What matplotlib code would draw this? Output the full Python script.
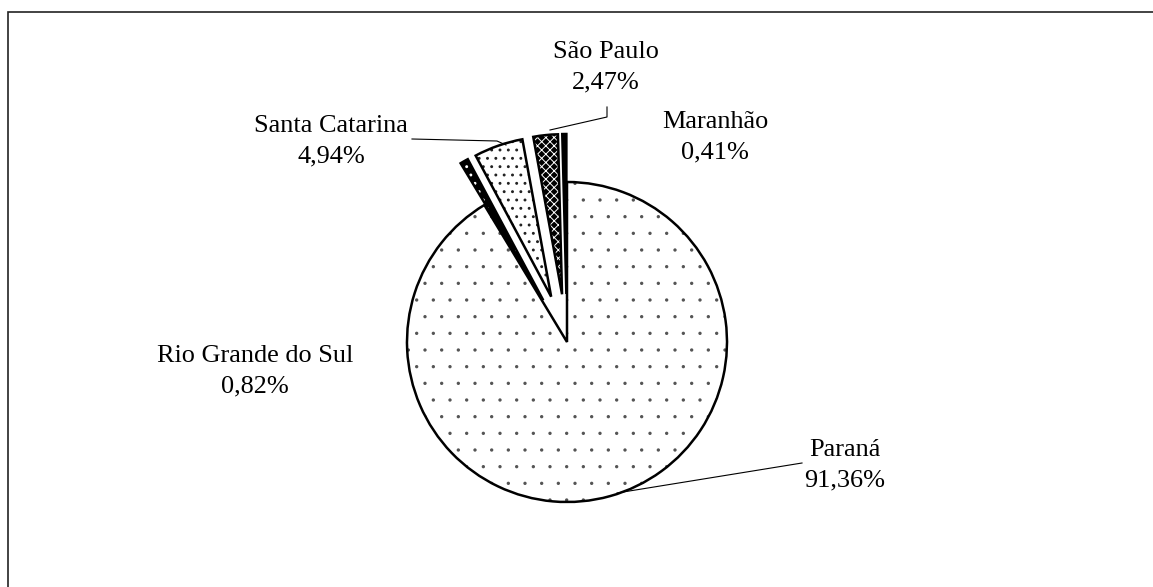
"""Pie chart of share by state (exploded small slices, hatched fills)."""

import matplotlib

matplotlib.use("Agg")
import matplotlib.pyplot as plt
from matplotlib.patches import Rectangle, Wedge

plt.rcParams["font.family"] = ["Liberation Serif", "DejaVu Serif"]

states = ["Paraná", "Rio Grande do Sul", "Santa Catarina", "São Paulo", "Maranhão"]
shares = [91.36, 0.82, 4.94, 2.47, 0.41]
labels = ["91,36%", "0,82%", "4,94%", "2,47%", "0,41%"]

W, H = 1153, 587
CX, CY, R = 567, 342, 160  # pie centre and radius in pixels


def px(x, y):
    """pixel position -> data coords (pie radius = 1)"""
    return (x - CX) / R, (CY - y) / R


fig = plt.figure(figsize=(W / 100, H / 100), dpi=100)
ax = fig.add_axes([0, 0, 1, 1])

explode = [0, 0.3, 0.3, 0.3, 0.3]
wedges, _ = ax.pie(
    shares,
    explode=explode,
    startangle=90,
    counterclock=False,
    radius=1,
    center=(0, 0),
    wedgeprops=dict(edgecolor="black", linewidth=1.8, facecolor="white"),
    frame=True,
)
ax.set_xlim(-CX / R, (W - CX) / R)
ax.set_ylim(-(H - CY) / R, CY / R)
ax.set_axis_off()

# fills: (face, hatch, hatch colour, hatch linewidth)
fills = [
    ("white", ".", "#555555", 0.0),
    ("black", "..", "white", 0.9),
    ("white", "..", "#222222", 0.9),
    ("black", "xxxx", "white", 0.7),
    ("black", None, None, 0.0),
]
for w, (face, hatch, hcol, hlw) in zip(wedges, fills):
    with plt.rc_context({"hatch.linewidth": hlw}):
        under = Wedge(w.center, w.r, w.theta1, w.theta2, facecolor=face,
                      edgecolor=hcol if hcol else face, linewidth=0,
                      hatch=hatch, zorder=w.get_zorder() - 0.1)
    if hasattr(under, "set_hatch_linewidth"):
        under.set_hatch_linewidth(hlw)
    ax.add_patch(under)
    w.set_facecolor("none")

# label positions (pixel centres) and leader lines
label_pos = [(845, 465), (255, 371), (331, 141), (606, 67), (715, 137)]
for name, pct, (x, y) in zip(states, labels, label_pos):
    ax.text(*px(x, y), f"{name}\n{pct}", ha="center", va="center",
            fontsize=18.9, linespacing=1.5)

leaders = [
    [(617, 493), (802, 463)],
    [(412, 139), (497, 141), (506, 145)],
    [(607, 107), (607, 117), (550, 130)],
]
for pts in leaders:
    xs, ys = zip(*[px(*p) for p in pts])
    ax.plot(xs, ys, color="black", linewidth=0.8)

# chart-area border (only top and left edges fall inside the image)
fig.add_artist(Rectangle((8 / W, -0.1), 1.2, (H - 12) / H + 0.1,
                         transform=fig.transFigure, fill=False,
                         edgecolor="#222222", linewidth=1.2))

fig.savefig("out.png", dpi=100)
